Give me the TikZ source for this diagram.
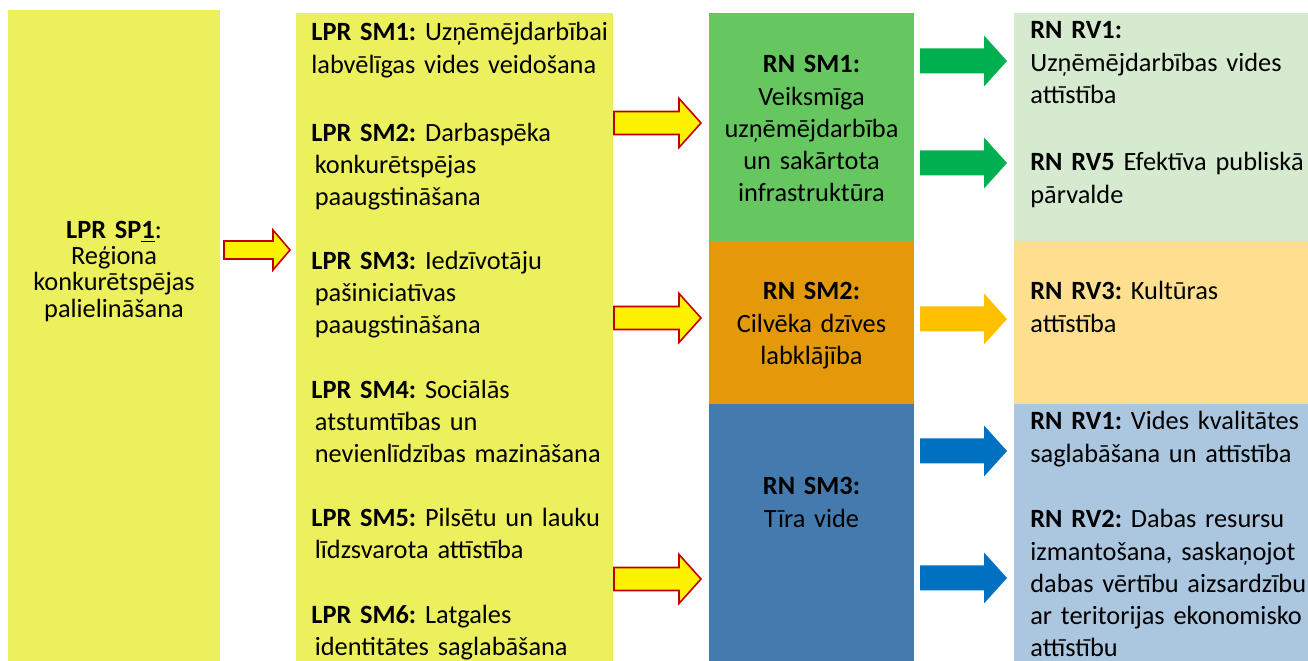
\documentclass[tikz,border=0pt]{standalone}
\usepackage{fontspec}
\setmainfont{Carlito}
\usetikzlibrary{positioning}

\definecolor{lpryellow}{RGB}{237,240,93}
\definecolor{smgreen}{RGB}{102,199,96}
\definecolor{smorange}{RGB}{228,153,10}
\definecolor{smblue}{RGB}{68,122,174}
\definecolor{rvgreen}{RGB}{213,234,206}
\definecolor{rvorange}{RGB}{253,223,143}
\definecolor{rvblue}{RGB}{171,199,223}
\definecolor{argreen}{RGB}{0,176,80}
\definecolor{arorange}{RGB}{255,192,0}
\definecolor{arblue}{RGB}{0,112,192}
\definecolor{arred}{RGB}{192,0,0}

% block arrow: [style]{x}{y}{length}{half shaft}{half head}{head length}
\newcommand\blockarrow[7][]{%
  \path[#1] (#2,#3-#5) -- (#2+#4-#7,#3-#5) -- (#2+#4-#7,#3-#6) -- (#2+#4,#3)
    -- (#2+#4-#7,#3+#6) -- (#2+#4-#7,#3+#5) -- (#2,#3+#5) -- cycle;}

\begin{document}
\frenchspacing
\begin{tikzpicture}[x=0.02cm,y=-0.02cm,
  col box/.style={rectangle,inner sep=0pt,outer sep=0pt,anchor=north west},
  item text/.style={inner sep=0pt,font=\fontsize{15pt}{18.27pt}\selectfont,
        text width=#1,align=left,anchor=base west},
  mid text/.style={inner sep=0pt,font=\fontsize{15pt}{18.27pt}\selectfont,
        text width=4cm,align=center,anchor=base},
  lpr arrow/.style={fill=yellow,draw=arred,line width=0.9pt,line join=miter}]
  \useasboundingbox (0,0) rectangle (1308,661);

  % columns
  \node[col box,fill=lpryellow,minimum width=4.24cm,minimum height=13.02cm] (sp1) at (8,10) {};
  \node[col box,fill=lpryellow,minimum width=6.34cm,minimum height=12.96cm] (lprsm) at (296,13) {};
  \node[col box,fill=smgreen,minimum width=4.1cm,minimum height=4.56cm] (rnsm1) at (709,13) {};
  \node[col box,fill=smorange,minimum width=4.1cm,minimum height=3.26cm,below=0pt of rnsm1] (rnsm2) {};
  \node[col box,fill=smblue,minimum width=4.1cm,minimum height=5.14cm,below=0pt of rnsm2] (rnsm3) {};
  \node[col box,fill=rvgreen,minimum width=5.88cm,minimum height=4.56cm,right=2cm of rnsm1] (rvg) {};
  \node[col box,fill=rvorange,minimum width=5.88cm,minimum height=3.26cm,right=2cm of rnsm2] (rvo) {};
  \node[col box,fill=rvblue,minimum width=5.88cm,minimum height=5.14cm,right=2cm of rnsm3] (rvb) {};

  % texts
  \node[mid text,font=\fontsize{15pt}{14.8pt}\selectfont] (sp1txt) at (114,239)
    {\lineskiplimit=-20pt\relax
     \textbf{LPR SP\smash{\underline{1}}}:\\Reģiona\\konkurētspējas\\palielināšana};

  \node[item text=6.1cm] (sm1) at (311,41)
    {\textbf{LPR SM1:} Uzņēmējdarbībai\\labvēlīgas vides veidošana};
  \node[item text=6.1cm] (sm2) at (311,141.3)
    {\textbf{LPR SM2:} Darbaspēka\\\hspace*{2pt}konkurētspējas\\\hspace*{2pt}paaugstināšana};
  \node[item text=6.1cm] (sm3) at (311,269.7)
    {\textbf{LPR SM3:} Iedzīvotāju\\\hspace*{2pt}pašiniciatīvas\\\hspace*{2pt}paaugstināšana};
  \node[item text=6.1cm] (sm4) at (311,398.1)
    {\textbf{LPR SM4:} Sociālās\\\hspace*{2pt}atstumtības un\\\hspace*{2pt}nevienlīdzības mazināšana};
  \node[item text=6.1cm] (sm5) at (311,526.5)
    {\textbf{LPR SM5:} Pilsētu un lauku\\\hspace*{2pt}līdzsvarota attīstība};
  \node[item text=6.1cm] (sm6) at (311,623.8)
    {\textbf{LPR SM6:} Latgales\\\hspace*{2pt}identitātes saglabāšana};

  \node[mid text] (rnsm1txt) at (811.5,73)
    {\textbf{RN SM1:}\\Veiksmīga\\uzņēmējdarbība\\un sakārtota\\infrastruktūra};
  \node[mid text] (rnsm2txt) at (811.5,300)
    {\textbf{RN SM2:}\\Cilvēka dzīves\\labklājība};
  \node[mid text] (rnsm3txt) at (811.5,495)
    {\textbf{RN SM3:}\\Tīra vide};

  \node[item text=5.6cm] (rv1) at (1030,39)
    {\textbf{RN RV1:}\\Uzņēmējdarbības vides\\attīstība};
  \node[item text=5.6cm] (rv5) at (1030,171)
    {\textbf{RN RV5} Efektīva publiskā\\pārvalde};
  \node[item text=5.6cm] (rv3) at (1030,300)
    {\textbf{RN RV3:} Kultūras\\attīstība};
  \node[item text=5.6cm] (rv1b) at (1030,430)
    {\textbf{RN RV1:} Vides kvalitātes\\saglabāšana un attīstība};
  \node[item text=5.6cm] (rv2) at (1030,528)
    {\textbf{RN RV2:} Dabas resursu\\izmantošana, saskaņojot\\dabas vērtību aizsardzību\\ar teritorijas ekonomisko\\attīstību};

  % arrows
  \blockarrow[lpr arrow]{224}{250}{66}{9}{20}{17}
  \blockarrow[lpr arrow]{614}{123}{87}{11.5}{24.5}{22}
  \blockarrow[lpr arrow]{614}{318}{87}{11.5}{24.5}{22}
  \blockarrow[lpr arrow]{614}{579}{87}{11.5}{24.5}{22}
  \blockarrow[fill=argreen]{920}{61}{87}{12.5}{25.5}{23}
  \blockarrow[fill=argreen]{920}{163}{87}{12.5}{25.5}{23}
  \blockarrow[fill=arorange]{920}{319}{87}{12.5}{25.5}{23}
  \blockarrow[fill=arblue]{920}{451}{87}{12.5}{25.5}{23}
  \blockarrow[fill=arblue]{920}{578}{87}{12.5}{25.5}{23}
\end{tikzpicture}
\end{document}
